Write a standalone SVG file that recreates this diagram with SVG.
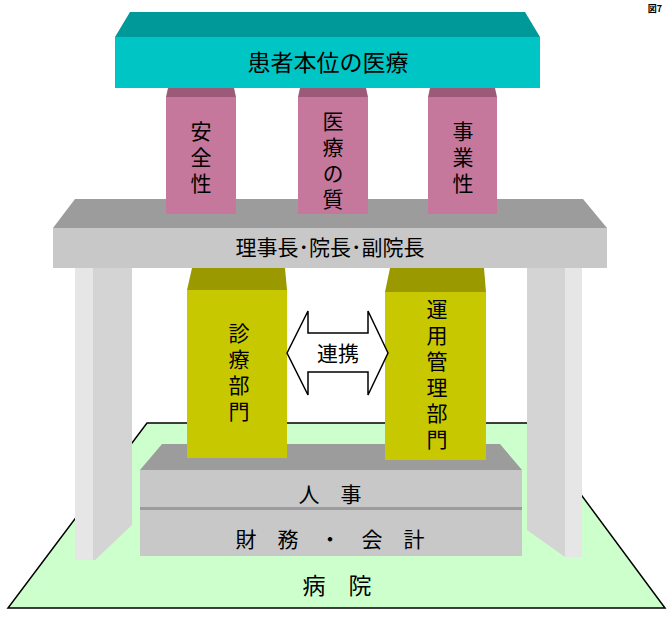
<svg xmlns="http://www.w3.org/2000/svg" width="670" height="620" viewBox="0 0 670 620">
<style>
text{font-family:"Noto Sans CJK JP","Liberation Sans",sans-serif;fill:#000;text-anchor:middle}
.t{font-size:21px}
.v{font-size:21px;writing-mode:vertical-rl;letter-spacing:5px}
.pk{fill:#C6779C}.pkt{fill:#9B5A78}
.yl{fill:#C8C800}.ylt{fill:#9A9A00}
.gf{fill:#C8C8C8}.gt{fill:#9C9C9C}
.post{fill:#D4D4D4}.posts{fill:#E6E6E6}
</style>
<text x="655" y="12" style="font-size:9px;font-weight:bold">図7</text>
<g id="floor"><polygon points="147,423 528,423 665,608 8,608" fill="#CCFFCC" stroke="#000" stroke-width="1.5"/><text x="337" y="594" style="font-size:23px">病　院</text></g>
<g id="posts">
<polygon class="post" points="75,268 132,268 132,525 95,560 75,560"/>
<rect class="posts" x="75" y="268" width="18" height="292"/>
<polygon class="post" points="527,268 582,268 582,557 565,557 527,530"/>
<rect class="posts" x="565" y="268" width="17" height="289"/>
</g>
<g id="base">
<polygon class="gt" points="162,444 500,444 522,470 140,470"/>
<rect class="gf" x="140" y="470" width="382" height="37"/>
<rect class="gt" x="140" y="507" width="382" height="3"/>
<rect class="gf" x="140" y="510" width="382" height="46"/>
<text x="330" y="502" class="t">人　事</text>
<text x="330" y="547" class="t">財　務　・　会　計</text>
</g>
<g id="shinryo">
<polygon class="ylt" points="192,268 285,268 287,290 187,290"/>
<rect class="yl" x="187" y="290" width="100" height="168"/>
<text class="v" x="239" y="375">診療部門</text>
</g>
<g id="unyo">
<polygon class="ylt" points="390,268 484,268 486,292 385,292"/>
<rect class="yl" x="385" y="292" width="101" height="168"/>
<text class="v" x="437" y="377">運用管理部門</text>
</g>
<g id="connectors">
<polygon points="287,353 308,311 308,333 368,333 368,311 388,353 368,395 368,372 308,372 308,395" fill="#fff" stroke="#000" stroke-width="1.5"/>
<text x="338" y="361" class="t">連携</text>
</g>
<g id="mgmt">
<polygon class="gt" points="75,199 583,199 607,228 53,228"/>
<rect class="gf" x="53" y="228" width="554" height="40"/>
<text x="330" y="255" class="t">理事長･院長･副院長</text>
</g>
<g id="anzen"><polygon class="pkt" points="168,88 234,88 236,97 166,97"/><rect class="pk" x="166" y="97" width="70" height="117"/><text class="v" x="201" y="160">安全性</text></g>
<g id="shitsu"><polygon class="pkt" points="300,88 366,88 368,97 298,97"/><rect class="pk" x="298" y="97" width="70" height="117"/><text class="v" x="333" y="163">医療の質</text></g>
<g id="jigyo"><polygon class="pkt" points="430,88 495,88 497,97 428,97"/><rect class="pk" x="428" y="97" width="69" height="117"/><text class="v" x="463" y="160">事業性</text></g>
<g id="top">
<polygon fill="#009999" points="130,12 525,12 540,37 115,37"/>
<rect fill="#00C5C5" x="115" y="37" width="425" height="51"/>
<text x="328" y="71" style="font-size:23px">患者本位の医療</text>
</g>
</svg>
